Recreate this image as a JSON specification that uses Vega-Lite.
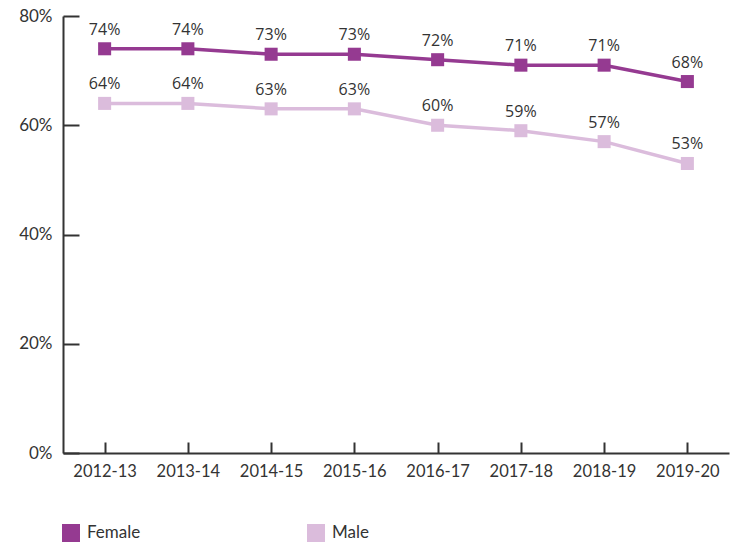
{
  "$schema": "https://vega.github.io/schema/vega-lite/v6.json",
  "autosize": {"type": "none"},
  "width": 666,
  "height": 437,
  "padding": {"left": 63, "top": 16, "right": 8, "bottom": 93},
  "background": "white",
  "config": {"view": {"stroke": null}, "font": "Lato"},
  "data": {"values": [
    {"year": "2012-13", "sex": "Female", "v": 0.74},
    {"year": "2013-14", "sex": "Female", "v": 0.74},
    {"year": "2014-15", "sex": "Female", "v": 0.73},
    {"year": "2015-16", "sex": "Female", "v": 0.73},
    {"year": "2016-17", "sex": "Female", "v": 0.72},
    {"year": "2017-18", "sex": "Female", "v": 0.71},
    {"year": "2018-19", "sex": "Female", "v": 0.71},
    {"year": "2019-20", "sex": "Female", "v": 0.68},
    {"year": "2012-13", "sex": "Male", "v": 0.64},
    {"year": "2013-14", "sex": "Male", "v": 0.64},
    {"year": "2014-15", "sex": "Male", "v": 0.63},
    {"year": "2015-16", "sex": "Male", "v": 0.63},
    {"year": "2016-17", "sex": "Male", "v": 0.60},
    {"year": "2017-18", "sex": "Male", "v": 0.59},
    {"year": "2018-19", "sex": "Male", "v": 0.57},
    {"year": "2019-20", "sex": "Male", "v": 0.53}
  ]},
  "encoding": {
    "x": {"field": "year", "type": "ordinal", "scale": {"type": "point", "padding": 0.5},
      "axis": {"title": null, "labelAngle": 0, "domainColor": "#333", "domainWidth": 2, "tickColor": "#333", "tickWidth": 2, "tickSize": -11, "labelPadding": 21, "labelFontSize": 16.5, "labelColor": "#333", "labelFont": "Lato"}},
    "y": {"field": "v", "type": "quantitative", "scale": {"domain": [0, 0.8]},
      "axis": {"title": null, "values": [0, 0.2, 0.4, 0.6, 0.8], "format": ".0%", "grid": false, "domainColor": "#333", "domainWidth": 2, "tickColor": "#333", "tickWidth": 2, "tickSize": -16, "labelPadding": 27, "labelFontSize": 17, "labelColor": "#333", "labelFont": "Lato"}},
    "color": {"field": "sex", "type": "nominal", "scale": {"domain": ["Female", "Male"], "range": ["#953a91", "#dbbcdc"]},
      "legend": {"title": null, "orient": "none", "legendX": -1, "legendY": 508, "direction": "horizontal", "columns": 2, "columnPadding": 166, "symbolType": "square", "symbolSize": 324, "symbolStrokeWidth": 0, "symbolOpacity": 1, "labelFontSize": 17, "labelColor": "#333", "labelFont": "Lato", "labelOffset": 7}}
  },
  "layer": [
    {"mark": {"type": "line", "strokeWidth": 3.5}},
    {"mark": {"type": "point", "shape": "square", "filled": true, "size": 170, "opacity": 1}},
    {"mark": {"type": "text", "dy": -19, "fontSize": 16, "color": "#333", "font": "Open Sans"},
      "encoding": {"text": {"field": "v", "type": "quantitative", "format": ".0%"}, "color": {"value": "#333"}}}
  ]
}
